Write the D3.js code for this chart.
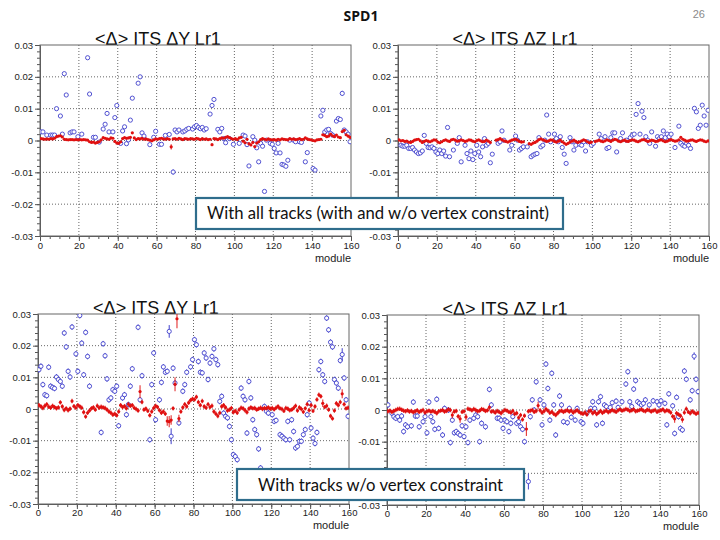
<!DOCTYPE html>
<html>
<head>
<meta charset="utf-8">
<script src="https://cdn.jsdelivr.net/npm/d3@7"></script>
<style>
  body { margin: 0; background: #fff; }
</style>
</head>
<body>
<svg id="chart"></svg>
<script>
// ---- chart data ----
var pageTitle = "SPD1";
var pageNumber = "26";
var titles = ["<Δ> ITS ΔY Lr1", "<Δ> ITS ΔZ Lr1", "<Δ> ITS ΔY Lr1", "<Δ> ITS ΔZ Lr1"];
var boxTexts = ["With all tracks (with and w/o vertex constraint)", "With tracks w/o vertex constraint"];
var xLabel = "module";
var xTicks = [0, 20, 40, 60, 80, 100, 120, 140, 160];
var yTicks = [-0.03, -0.02, -0.01, 0, 0.01, 0.02, 0.03];
var yTickLabels = ["-0.03", "-0.02", "-0.01", "0", "0.01", "0.02", "0.03"];

// red: one value per module 0..159
var red1 = [
  0.0006,0.0005,0.0004,0.0005,0.0004,0.0006,0.0005,0.0007,0.0012,0.0014,
  0.0015,0.0011,0.0004,0.0003,0.0002,0.0003,0.0003,0.0002,0.0003,0.0002,
  0.0003,0.0002,0.0003,0.0002,0.0001,-0.0004,-0.0006,-0.0005,-0.0008,-0.0006,
  -0.0004,0.0002,0.0009,0.0007,0.0005,0.0004,0.0008,0.0007,-0.0003,-0.0008,
  -0.0009,-0.0004,0.0006,0.0009,0.0007,0.0008,0.0010,0.0024,0.0008,0.0003,
  0.0006,0.0005,0.0007,0.0004,0.0005,0.0003,0.0001,-0.0001,0.0002,0.0005,
  0.0004,0.0006,0.0007,0.0005,0.0004,0.0006,0.0004,-0.0020,0.0005,0.0006,
  0.0004,0.0007,0.0005,0.0003,0.0006,0.0005,0.0004,0.0006,0.0005,0.0004,
  0.0007,0.0005,0.0003,0.0006,0.0004,0.0005,0.0003,0.0004,-0.0013,0.0006,
  0.0005,0.0003,0.0006,0.0008,0.0007,0.0010,0.0012,0.0009,0.0006,0.0004,
  0.0006,0.0003,0.0008,0.0010,-0.0002,-0.0007,0.0004,-0.0010,-0.0014,-0.0006,
  -0.0019,-0.0008,-0.0004,0.0003,0.0006,0.0004,0.0002,0.0005,0.0003,0.0002,
  0.0003,0.0001,0.0004,0.0002,0.0005,0.0004,0.0003,0.0002,0.0006,0.0004,
  0.0005,0.0003,0.0004,0.0006,0.0003,0.0004,0.0008,0.0005,0.0003,0.0002,
  0.0000,-0.0001,0.0002,0.0003,0.0004,0.0018,0.0016,0.0012,0.0014,0.0020,
  0.0015,0.0012,0.0017,0.0011,0.0009,0.0028,0.0032,0.0018,0.0014,0.0010
];
var red2 = [
  0.0002,-0.0001,0.0000,-0.0003,-0.0002,-0.0005,-0.0006,-0.0003,0.0001,0.0003,
  0.0004,-0.0001,-0.0006,-0.0003,0.0000,-0.0002,-0.0004,-0.0001,0.0002,0.0001,
  -0.0005,-0.0007,-0.0004,0.0000,0.0002,-0.0001,-0.0003,0.0002,0.0004,0.0001,
  -0.0002,-0.0001,0.0002,0.0000,-0.0003,-0.0001,0.0002,0.0001,-0.0002,-0.0004,
  0.0000,0.0002,-0.0001,-0.0004,-0.0003,0.0001,-0.0002,-0.0006,null,null,
  0.0001,0.0003,0.0006,0.0002,-0.0001,-0.0003,-0.0005,-0.0002,0.0001,0.0003,
  0.0004,0.0001,-0.0003,-0.0005,-0.0004,null,null,-0.0010,-0.0012,-0.0008,
  -0.0006,-0.0002,0.0003,0.0005,0.0002,0.0000,-0.0003,-0.0001,0.0002,0.0001,
  -0.0003,-0.0005,-0.0002,0.0001,-0.0004,-0.0008,-0.0012,-0.0009,-0.0005,-0.0002,
  0.0001,-0.0003,-0.0006,-0.0004,-0.0001,0.0002,0.0000,-0.0004,-0.0007,-0.0005,
  null,-0.0003,-0.0001,0.0001,-0.0002,-0.0004,-0.0001,0.0002,0.0000,-0.0003,
  0.0001,0.0004,0.0002,-0.0002,-0.0004,-0.0001,0.0001,-0.0002,-0.0003,0.0000,
  0.0002,0.0001,-0.0002,-0.0004,-0.0001,0.0002,0.0003,0.0000,-0.0003,-0.0001,
  0.0001,0.0000,-0.0003,-0.0002,0.0001,0.0002,-0.0001,-0.0004,-0.0002,0.0001,
  0.0003,0.0000,-0.0002,-0.0001,0.0002,0.0010,0.0004,0.0001,-0.0002,-0.0001,
  0.0001,0.0002,-0.0001,-0.0003,0.0000,0.0002,0.0001,-0.0002,-0.0004,-0.0001
];
var red3 = [
  0.0012,0.0008,0.0003,0.0010,0.0015,0.0007,0.0004,0.0010,0.0006,0.0002,
  0.0005,0.0021,0.0008,-0.0003,0.0002,-0.0004,0.0001,0.0025,0.0009,0.0004,
  0.0012,0.0008,0.0004,-0.0010,-0.0024,-0.0012,-0.0005,0.0002,0.0005,-0.0002,
  0.0010,0.0004,0.0007,0.0005,0.0003,-0.0002,-0.0008,-0.0012,-0.0018,-0.0015,
  -0.0020,-0.0008,0.0012,0.0006,0.0009,0.0002,0.0015,0.0010,0.0012,0.0004,
  0.0000,-0.0005,0.0055,0.0022,-0.0002,0.0001,-0.0006,-0.0020,-0.0008,0.0003,
  0.0010,0.0006,-0.0004,-0.0012,-0.0008,-0.0015,-0.0038,-0.0040,-0.0035,0.0002,
  0.0078,0.0285,-0.0030,-0.0008,0.0005,0.0015,0.0008,0.0020,0.0028,0.0032,
  0.0030,0.0038,0.0022,0.0012,0.0025,0.0008,0.0004,0.0015,0.0006,0.0010,
  -0.0008,-0.0015,-0.0022,-0.0012,0.0008,0.0012,0.0005,-0.0005,-0.0002,0.0003,
  -0.0010,-0.0006,-0.0012,-0.0002,0.0004,0.0002,-0.0004,-0.0010,0.0001,0.0005,
  0.0002,0.0003,-0.0002,0.0001,0.0004,0.0000,0.0003,0.0002,0.0005,0.0001,
  0.0003,-0.0001,0.0004,0.0008,0.0002,0.0000,-0.0006,0.0003,0.0001,-0.0004,
  -0.0002,0.0003,0.0010,-0.0005,0.0005,0.0000,-0.0009,0.0002,0.0015,-0.0004,
  0.0012,-0.0006,0.0008,0.0030,0.0045,0.0040,0.0018,0.0006,0.0010,-0.0002,
  -0.0022,-0.0030,-0.0005,0.0018,0.0012,0.0022,0.0048,0.0015,0.0002,0.0004
];
var red4 = [
  -0.0004,-0.0002,-0.0006,-0.0003,0.0000,0.0003,0.0004,0.0001,-0.0002,-0.0004,
  -0.0001,-0.0005,-0.0003,-0.0007,-0.0004,-0.0001,-0.0006,-0.0003,0.0000,-0.0008,
  -0.0004,-0.0002,-0.0005,-0.0003,-0.0006,-0.0010,-0.0004,-0.0002,0.0000,-0.0005,
  -0.0003,0.0002,0.0000,-0.0016,-0.0005,-0.0003,-0.0020,-0.0028,-0.0006,-0.0004,
  -0.0022,0.0004,0.0002,-0.0001,0.0003,0.0000,-0.0004,-0.0002,0.0003,0.0001,
  -0.0003,-0.0001,0.0008,-0.0005,-0.0004,-0.0008,-0.0003,-0.0006,-0.0010,-0.0004,
  0.0000,-0.0002,-0.0006,-0.0008,-0.0003,-0.0012,-0.0010,-0.0024,-0.0016,-0.0030,
  -0.0018,-0.0060,-0.0004,-0.0002,0.0000,-0.0006,-0.0003,0.0014,-0.0001,-0.0008,
  -0.0004,0.0003,-0.0002,-0.0009,-0.0006,-0.0012,-0.0016,-0.0010,-0.0004,-0.0002,
  -0.0006,-0.0003,-0.0001,-0.0005,-0.0002,-0.0008,-0.0004,-0.0001,-0.0006,-0.0010,
  -0.0012,-0.0008,-0.0014,-0.0004,-0.0002,-0.0010,-0.0006,-0.0013,-0.0008,-0.0003,
  -0.0009,-0.0005,-0.0002,-0.0007,-0.0004,0.0000,-0.0003,-0.0006,-0.0001,0.0002,
  -0.0002,0.0000,0.0003,0.0001,-0.0003,-0.0001,0.0002,-0.0004,-0.0002,0.0000,
  0.0002,-0.0002,-0.0004,0.0001,-0.0001,-0.0005,-0.0002,0.0000,-0.0006,-0.0003,
  -0.0001,0.0002,-0.0004,-0.0001,-0.0003,-0.0008,-0.0020,-0.0028,-0.0010,-0.0014,
  -0.0018,-0.0030,-0.0008,0.0004,-0.0006,-0.0010,-0.0004,-0.0008,-0.0012,-0.0009
];
// red points with larger error bars: [module, error]
var redErr1 = [[67, 0.0008]];
var redErr2 = [];
var redErr3 = [[52,0.002],[66,0.0015],[67,0.0018],[68,0.0015],[70,0.0022],[71,0.003],[72,0.0012],[146,0.0012],[156,0.0014]];
var redErr4 = [[33,0.001],[37,0.0012],[40,0.001],[71,0.0022],[77,0.0012],[147,0.0012],[151,0.001]];

// blue: [module, value, error (optional)]
var blue1 = [
  [0,0.0027],[1,0.0027],[3,0.0017],[5,0.0017],[6,0.0017],[7,0.0017],[8,0.0100],[10,0.0077],[11,0.0020],
  [12,0.0210],[13,0.0143],[15,0.0024],[16,0.0027],[17,0.0027],[19,0.0012],[21,0.0020],[24,0.0260],
  [25,0.0146],[27,0.0010],[28,0.0010],[30,-0.0005],[32,0.0036],[33,0.0051],[34,0.0085],[35,0.0027],
  [37,0.0027],[38,0.0072],[39,0.0110],[41,-0.0009],[42,0.0030],[43,0.0043],[44,-0.0010],[45,0.0002],
  [46,0.0064],[47,0.0133],[50,0.0180],[51,0.0200],[52,0.0024],[53,0.0014],[56,-0.0013],[58,0.0010],
  [59,0.0029],[61,-0.0012],[62,-0.0012],[64,0.0016],[66,0.0019],[68,-0.0099,0.0008],[69,0.0033],
  [70,0.0027],[71,0.0033],[73,0.0027],[74,0.0030],[75,0.0035],[76,0.0038],[78,0.0036],[79,0.0043],
  [80,0.0047],[81,0.0041],[82,0.0037],[83,0.0041],[84,0.0033],[85,0.0037],[87,0.0083],[88,0.0110],
  [89,0.0129],[91,0.0035],[92,0.0027],[93,0.0038],[94,0.0006],[95,-0.0007],[97,0.0006],[99,-0.0012],
  [102,-0.0009],[104,0.0017],[105,0.0014],[106,-0.0013],[107,-0.0080],[109,0.0012],[110,0.0001],
  [111,-0.0023],[112,-0.0067],[113,-0.0009],[114,-0.0018],[115,-0.0160],[116,0.0001],[118,-0.0009],
  [119,-0.0012],[120,-0.0025],[121,-0.0039],[122,-0.0009],[123,-0.0039],[124,-0.0075],[125,-0.0077],
  [126,-0.0081],[127,-0.0062],[128,0.0001],[130,0.0001],[131,-0.0004],[133,-0.0004],[134,-0.0006],
  [136,-0.0067],[137,-0.0038],[140,-0.0088],[141,-0.0093],[144,0.0077],[145,0.0095],[146,0.0027],
  [147,0.0033],[148,0.0035],[149,0.0022],[150,0.0017],[152,0.0061],[153,0.0069],[154,0.0066],
  [155,0.0148,0.0008],[156,0.0033],[157,0.0027],[158,0.0020],[159,-0.0004]
];
var blue2 = [
  [1,-0.0015],[2,-0.0018],[3,-0.0018],[4,-0.0015],[5,-0.0025],[6,-0.0025],[7,-0.0022],[8,-0.0030],
  [9,-0.0036],[10,-0.0041],[11,-0.0039],[12,-0.0033],[13,0.0016],[14,-0.0009],[15,-0.0022],[16,-0.0023],
  [17,-0.0020],[18,-0.0025],[19,-0.0036],[20,-0.0041],[21,-0.0030],[22,-0.0041],[23,-0.0033],[24,-0.0049],
  [25,0.0041],[26,-0.0051],[28,-0.0030],[30,-0.0009],[31,0.0009],[32,-0.0067],[34,-0.0015],[35,-0.0041],
  [36,-0.0057],[37,-0.0033],[38,-0.0060],[39,-0.0041],[40,-0.0015],[41,-0.0036],[42,-0.0051],[43,-0.0020],
  [44,0.0006],[45,-0.0015],[46,-0.0009],[47,-0.0070],[48,-0.0043],[51,-0.0009],[52,-0.0004],[53,0.0030],
  [54,0.0001],[57,-0.0030],[58,-0.0015],[60,0.0014],[61,0.0001],[62,-0.0030],[63,-0.0025],[64,-0.0020],
  [66,-0.0020],[68,-0.0051],[69,-0.0046],[70,-0.0043],[71,-0.0041],[72,0.0009],[73,-0.0020],[74,-0.0015],
  [75,0.0001],[76,0.0080],[77,0.0020],[78,-0.0004],[80,0.0020],[81,0.0006],[82,-0.0004],[83,0.0012],
  [84,-0.0022],[85,-0.0043],[86,-0.0072],[88,0.0009],[89,-0.0004],[90,-0.0030],[91,-0.0015],[93,-0.0012],
  [94,-0.0015],[95,-0.0004],[96,-0.0033],[97,-0.0004],[99,-0.0015],[100,-0.0009],[103,0.0020],[104,0.0006],
  [106,0.0012],[107,-0.0025],[108,-0.0022],[109,0.0009],[110,0.0024],[111,0.0024],[112,-0.0036],[114,0.0006],
  [115,0.0024],[117,0.0001],[119,0.0009],[120,0.0017],[121,0.0020],[122,0.0082],[123,0.0116],[124,0.0020],
  [125,0.0092],[126,0.0072],[127,0.0012],[128,0.0001],[129,-0.0009],[130,0.0027],[132,-0.0018],[133,0.0012],
  [134,0.0006],[135,0.0012],[136,0.0030],[137,0.0009],[138,0.0020],[139,0.0012],[140,0.0020],[142,-0.0022],
  [144,0.0045],[145,-0.0009],[146,-0.0015],[147,-0.0018],[148,-0.0009],[149,-0.0015],[150,-0.0025],
  [152,0.0101],[153,0.0090],[154,0.0038],[155,0.0048],[156,0.0111],[157,0.0077],[158,0.0048],[159,0.0095]
];
var blue3 = [
  [0,0.0124],[1,0.0135],[2,0.0077],[3,0.0045],[4,0.0042],[5,0.0132],[6,0.0072],[7,0.0068],[8,0.0065],
  [9,0.0101],[10,0.0093],[11,0.0087],[12,0.0072],[13,0.0240],[14,0.0196],[15,0.0119],[16,0.0101],
  [17,0.0259],[19,0.0174],[20,0.0119],[21,0.0295],[22,0.0208],[23,0.0108],[24,0.0242],[25,0.0166],
  [26,0.0072],[32,-0.0074],[33,0.0206],[34,0.0168],[35,0.0095],[36,0.0029],[37,0.0035],[38,0.0061],
  [39,0.0056],[40,0.0072],[41,-0.0053],[43,0.0035],[44,0.0045],[45,-0.0018],[46,0.0014],[47,0.0072],
  [48,0.0127],[51,0.0258],[52,0.0029],[53,0.0105],[57,-0.0097],[58,0.0077],[59,0.0177],[60,-0.0034],
  [62,0.0029],[63,0.0084],[64,0.0133],[65,0.0116],[66,0.0119],[67,0.0245,0.002],[68,-0.0086,0.0025],
  [69,0.0129],[70,0.0082],[72,-0.0044],[74,0.0056],[75,0.0077],[76,0.0116],[78,0.0133],[79,0.0156],
  [80,0.0219],[81,0.0203],[82,0.0150],[83,0.0116],[84,0.0114],[85,0.0177],[86,0.0161],[87,0.0093],
  [88,0.0145],[89,0.0166],[90,0.0190],[91,0.0156],[92,0.0140],[93,0.0024],[94,0.0040],[95,-0.0013],
  [96,-0.0023],[97,-0.0028],[98,-0.0055],[99,-0.0097],[100,-0.0144],[101,-0.0150],[102,-0.0160],
  [104,0.0066],[105,0.0040],[106,0.0029],[107,-0.0076],[108,0.0087],[109,0.0035],[110,-0.0034],
  [111,-0.0065],[112,-0.0081],[113,-0.0126],[114,-0.0186],[116,0.0008],[117,-0.0007],[118,-0.0013],
  [120,-0.0018],[121,-0.0039],[122,-0.0036],[124,-0.0081],[125,-0.0086],[126,-0.0092],[127,-0.0097],
  [128,-0.0039],[129,-0.0097],[130,-0.0034],[131,-0.0071],[132,-0.0123],[133,-0.0118],[134,-0.0102],
  [135,-0.0102],[136,-0.0081],[137,-0.0065],[138,-0.0018],[139,0.0019],[140,-0.0060],[141,-0.0092],
  [142,-0.0109],[143,-0.0074],[144,0.0124],[145,0.0150],[146,0.0108],[147,0.0087],[148,0.0287],
  [149,0.0250],[150,0.0211],[151,0.0196],[152,0.0093],[153,0.0082],[154,0.0066],[155,0.0153],
  [156,0.0172,0.002],[157,0.0098],[158,0.0029],[159,-0.0023]
];
var blue4 = [
  [0,0.0016],[2,-0.0010],[3,-0.0021],[4,-0.0026],[5,-0.0021],[6,-0.0032],[7,-0.0019],[8,-0.0068],
  [9,-0.0047],[10,-0.0053],[12,-0.0050],[13,0.0025],[14,-0.0019],[15,-0.0019],[16,-0.0053],[18,-0.0037],
  [19,-0.0021],[20,-0.0072],[21,0.0025],[22,-0.0021],[23,-0.0037],[24,-0.0061],[25,0.0034],[26,-0.0058],
  [28,-0.0079],[29,0.0005],[31,0.0000],[32,-0.0103],[33,-0.0032],[34,-0.0072],[35,-0.0068],[36,-0.0074],
  [37,-0.0079],[38,-0.0050],[39,-0.0084],[40,-0.0053],[41,-0.0103],[42,-0.0032],[44,-0.0026],[45,-0.0016],
  [46,-0.0021],[47,-0.0100],[48,-0.0042],[50,-0.0053],[52,0.0065],[53,0.0016],[56,-0.0026],[57,-0.0026],
  [58,-0.0032],[59,-0.0058],[60,-0.0032],[61,-0.0037],[62,-0.0068],[63,-0.0042],[64,-0.0021],[66,-0.0042],
  [67,-0.0037],[68,-0.0053],[69,-0.0061],[70,-0.0100],[72,-0.0226,0.0025],[73,-0.0021],[74,0.0032],
  [75,0.0000],[76,0.0089],[78,0.0032],[79,-0.0047],[80,0.0016],[81,0.0145],[82,0.0068],[83,-0.0032],
  [84,0.0116],[85,0.0016],[86,-0.0079],[88,0.0044],[89,0.0016],[90,-0.0037],[92,-0.0040],[93,0.0005],
  [94,-0.0023],[96,-0.0032],[97,0.0005],[99,-0.0037],[100,-0.0042],[102,-0.0010],[104,0.0005],[105,0.0026],
  [106,0.0005],[107,-0.0047],[108,0.0026],[109,0.0042],[110,-0.0042],[111,0.0016],[112,0.0011],[114,0.0008],
  [115,0.0023],[117,0.0028],[118,0.0008],[120,0.0026],[122,0.0082],[123,0.0121],[124,0.0026],[125,0.0011],
  [126,0.0066],[127,0.0093],[128,0.0026],[129,0.0021],[130,0.0016],[131,0.0021],[132,0.0032],[134,0.0016],
  [136,0.0029],[138,0.0026],[139,0.0016],[140,0.0029],[142,0.0021],[143,-0.0047],[144,0.0051],[146,0.0013],
  [147,-0.0074],[148,0.0040],[149,-0.0021],[150,-0.0058],[151,-0.0063],[152,0.0123],[153,0.0097],
  [155,0.0032],[156,0.0061],[157,0.0170,0.0012],[158,0.0097],[159,0.0058]
];
// default error sizes for the two rows
var redErrDefault = [0.0002, 0.0007];
var blueErrDefault = [0.0003, 0.0009];

// ---- layout ----
var panels = [
  { left: 40,  right: 351, top: 45,  bottom: 236, titleX: 158, title: titles[0], red: red1, redErr: redErr1, blue: blue1, row: 0, xLabY: 251, modY: 262 },
  { left: 398, right: 709, top: 45,  bottom: 236, titleX: 515, title: titles[1], red: red2, redErr: redErr2, blue: blue2, row: 0, xLabY: 251, modY: 262 },
  { left: 38,  right: 349, top: 314, bottom: 504, titleX: 156, title: titles[2], red: red3, redErr: redErr3, blue: blue3, row: 1, xLabY: 518, modY: 529 },
  { left: 387, right: 699, top: 315, bottom: 505, titleX: 505, title: titles[3], red: red4, redErr: redErr4, blue: blue4, row: 1, xLabY: 519, modY: 530 }
];

var font = "'Liberation Sans', Arial, sans-serif";
var blueColor = "#4040cc";
var redColor = "#e01010";

var svg = d3.select("#chart")
    .attr("width", 720)
    .attr("height", 540)
    .attr("font-family", font);

svg.append("rect").attr("width", 720).attr("height", 540).attr("fill", "#fff");

function drawPanel(p, idx) {
    var x = d3.scaleLinear().domain([0, 160]).range([p.left, p.right]);
    var y = d3.scaleLinear().domain([-0.03, 0.03]).range([p.bottom, p.top]);
    var g = svg.append("g");

    // title sits just behind the pad, only its lower edge is hidden
    g.append("text")
        .attr("x", p.titleX)
        .attr("y", p.top)
        .attr("text-anchor", "middle")
        .attr("font-size", "18px")
        .attr("fill", "#111")
        .text(p.title);

    g.append("rect")
        .attr("x", p.left).attr("y", p.top)
        .attr("width", p.right - p.left).attr("height", p.bottom - p.top)
        .attr("fill", "#fff");

    // dotted grid
    g.selectAll(".hgrid")
        .data(yTicks.slice(1, -1))
        .enter().append("line")
        .attr("x1", p.left).attr("x2", p.right)
        .attr("y1", function(d) { return y(d); })
        .attr("y2", function(d) { return y(d); })
        .attr("stroke", "#666").attr("stroke-width", 1)
        .attr("stroke-dasharray", "1,2");
    g.selectAll(".vgrid")
        .data(xTicks.slice(1, -1))
        .enter().append("line")
        .attr("y1", p.top).attr("y2", p.bottom)
        .attr("x1", function(d) { return x(d); })
        .attr("x2", function(d) { return x(d); })
        .attr("stroke", "#666").attr("stroke-width", 1)
        .attr("stroke-dasharray", "1,2");

    // axes
    g.append("g")
        .attr("transform", "translate(" + p.left + ",0)")
        .call(d3.axisLeft(y).tickValues(yTicks)
            .tickFormat(function(d, i) { return yTickLabels[i]; })
            .tickSize(5).tickSizeOuter(0).tickPadding(2));
    g.append("g")
        .attr("transform", "translate(" + p.left + ",0)")
        .call(d3.axisLeft(y).tickValues(d3.range(-0.03, 0.0301, 0.002))
            .tickFormat("").tickSize(3).tickSizeOuter(0));
    var xAxis = g.append("g")
        .attr("transform", "translate(0," + p.bottom + ")")
        .call(d3.axisBottom(x).tickValues(xTicks).tickSize(5).tickSizeOuter(0).tickPadding(3));
    g.append("g")
        .attr("transform", "translate(0," + p.bottom + ")")
        .call(d3.axisBottom(x).tickValues(d3.range(0, 161, 5)).tickFormat("").tickSize(3).tickSizeOuter(0));

    g.selectAll(".domain").attr("stroke", "#555");
    g.selectAll(".tick line").attr("stroke", "#555");
    g.selectAll(".tick text")
        .attr("font-family", font)
        .attr("font-size", "9.5px")
        .attr("fill", "#222");
    xAxis.selectAll(".tick text").attr("y", p.xLabY - p.bottom - 9);

    g.append("text")
        .attr("x", p.right)
        .attr("y", p.modY)
        .attr("text-anchor", "end")
        .attr("font-size", "11px")
        .attr("fill", "#222")
        .text(xLabel);

    // frame
    g.append("rect")
        .attr("x", p.left).attr("y", p.top)
        .attr("width", p.right - p.left).attr("height", p.bottom - p.top)
        .attr("fill", "none").attr("stroke", "#666").attr("stroke-width", 1);

    // markers, clipped to the frame
    g.append("clipPath").attr("id", "clip" + idx)
        .append("rect")
        .attr("x", p.left).attr("y", p.top)
        .attr("width", p.right - p.left).attr("height", p.bottom - p.top);
    var pts = g.append("g").attr("clip-path", "url(#clip" + idx + ")");

    var blueErr = blueErrDefault[p.row];
    var blues = pts.selectAll(".blue").data(p.blue).enter().append("g");
    blues.append("line")
        .attr("x1", function(d) { return x(d[0] + 0.5); })
        .attr("x2", function(d) { return x(d[0] + 0.5); })
        .attr("y1", function(d) { return y(d[1] - (d[2] || blueErr)); })
        .attr("y2", function(d) { return y(d[1] + (d[2] || blueErr)); })
        .attr("stroke", blueColor).attr("stroke-width", 1);
    blues.append("circle")
        .attr("cx", function(d) { return x(d[0] + 0.5); })
        .attr("cy", function(d) { return y(d[1]); })
        .attr("r", 2.1)
        .attr("fill", "#fff")
        .attr("stroke", blueColor)
        .attr("stroke-width", 0.9);

    var errMap = {};
    p.redErr.forEach(function(e) { errMap[e[0]] = e[1]; });
    var redData = p.red.map(function(v, i) {
        return { m: i, v: v, e: errMap[i] || redErrDefault[p.row] };
    }).filter(function(d) { return d.v !== null; });

    var reds = pts.selectAll(".red").data(redData).enter().append("g");
    reds.append("line")
        .attr("x1", function(d) { return x(d.m + 0.5); })
        .attr("x2", function(d) { return x(d.m + 0.5); })
        .attr("y1", function(d) { return y(d.v - d.e); })
        .attr("y2", function(d) { return y(d.v + d.e); })
        .attr("stroke", redColor).attr("stroke-width", 1.2)
        .attr("stroke-opacity", 0.8);
    reds.append("circle")
        .attr("cx", function(d) { return x(d.m + 0.5); })
        .attr("cy", function(d) { return y(d.v); })
        .attr("r", 1.6)
        .attr("fill", redColor);
}

panels.forEach(drawPanel);

// header
svg.append("text")
    .attr("x", 361).attr("y", 21)
    .attr("text-anchor", "middle")
    .attr("font-family", "'Open Sans', 'Liberation Sans', sans-serif")
    .attr("font-weight", "bold")
    .attr("font-size", "14px")
    .attr("fill", "#111")
    .text(pageTitle);
svg.append("text")
    .attr("x", 705).attr("y", 18)
    .attr("text-anchor", "end")
    .attr("font-size", "11px")
    .attr("fill", "#8a8a8a")
    .text(pageNumber);

// annotation boxes
var boxes = [
    { x: 196, y: 198, w: 367, h: 31, tx: 207, ty: 219, text: boxTexts[0] },
    { x: 237, y: 469, w: 287, h: 31, tx: 258, ty: 491, text: boxTexts[1] }
];
boxes.forEach(function(b) {
    svg.append("rect")
        .attr("x", b.x).attr("y", b.y)
        .attr("width", b.w).attr("height", b.h)
        .attr("fill", "#fff")
        .attr("stroke", "#2f6d8c")
        .attr("stroke-width", 2.2);
    svg.append("text")
        .attr("x", b.tx).attr("y", b.ty)
        .attr("font-family", "Lato, 'Open Sans', sans-serif")
        .attr("font-size", "16.7px")
        .attr("fill", "#111")
        .text(b.text);
});
</script>
</body>
</html>
